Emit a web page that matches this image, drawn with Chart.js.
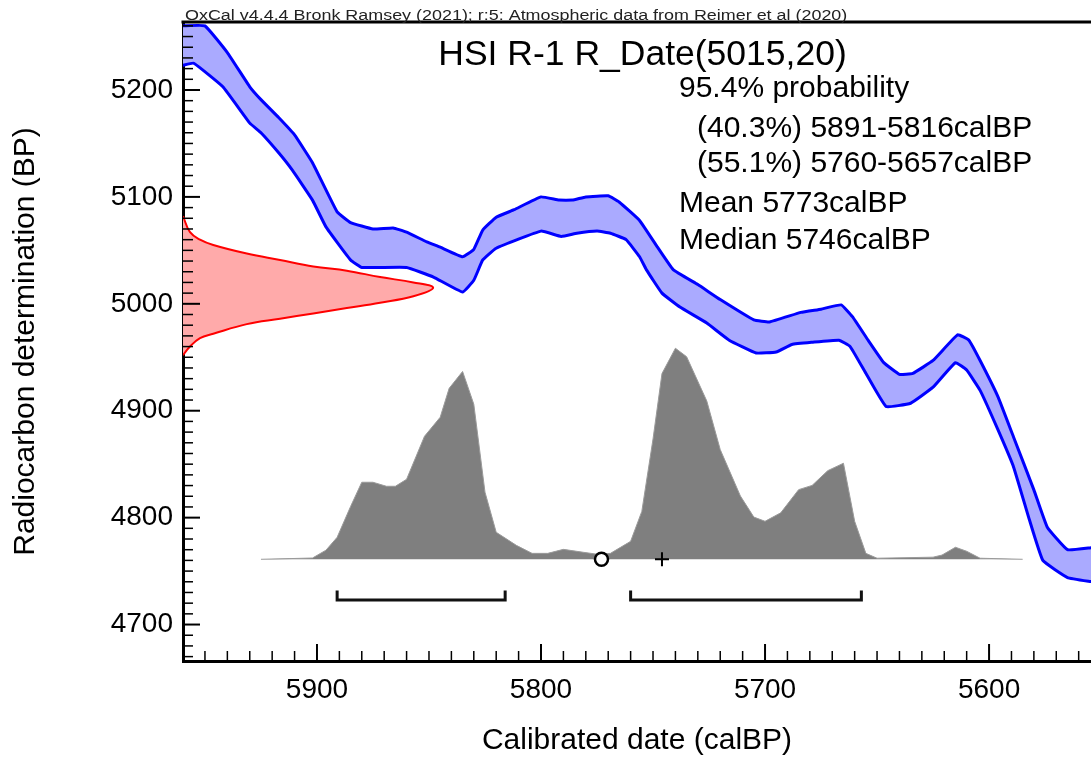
<!DOCTYPE html>
<html>
<head>
<meta charset="utf-8">
<title>HSI R-1 R_Date(5015,20)</title>
<script src="https://cdn.jsdelivr.net/npm/chart.js@4.4.1/dist/chart.umd.min.js"></script>
<style>
  html, body { margin: 0; padding: 0; background: #fff; }
  #wrap { width: 1091px; height: 760px; }
</style>
</head>
<body>
<div id="wrap"><canvas id="chart" width="1091" height="760"></canvas></div>
<script>
// calibration curve band (calBP / BP), upper and lower edge
var curveUpperYears = [5960, 5950, 5940, 5930, 5925, 5917, 5910, 5902, 5891, 5885, 5875, 5866, 5860, 5851, 5845, 5835, 5830, 5826, 5820, 5812, 5800, 5792, 5786, 5780, 5770, 5765, 5756, 5748, 5741, 5730, 5720, 5705, 5698, 5684, 5675, 5666, 5661, 5654, 5647, 5640, 5634, 5625, 5614, 5609, 5604, 5596, 5589, 5580, 5574, 5565, 5554];
var curveUpperBP = [5260, 5260, 5235, 5203, 5191, 5174, 5158, 5132, 5086, 5076, 5070, 5071, 5067, 5058, 5053, 5044, 5051, 5069, 5081, 5088, 5100, 5097, 5097, 5100, 5101, 5095, 5078, 5053, 5032, 5018, 5004, 4985, 4983, 4992, 4995, 4999, 4988, 4966, 4945, 4934, 4935, 4947, 4971, 4966, 4947, 4913, 4875, 4826, 4791, 4770, 4772];
var curveLowerYears = [5960, 5955, 5942, 5930, 5925, 5917, 5911, 5902, 5896, 5885, 5880, 5860, 5848, 5835, 5830, 5826, 5820, 5800, 5791, 5784, 5775, 5769, 5762, 5756, 5753, 5746, 5738, 5726, 5716, 5704, 5695, 5688, 5679, 5667, 5662, 5655, 5646, 5635, 5625, 5615, 5610, 5604, 5596, 5589, 5582, 5576, 5565, 5554];
var curveLowerBP = [5223, 5225, 5203, 5169, 5160, 5141, 5125, 5097, 5072, 5041, 5034, 5034, 5025, 5011, 5022, 5041, 5052, 5068, 5063, 5066, 5068, 5066, 5060, 5044, 5032, 5010, 4997, 4982, 4966, 4954, 4955, 4962, 4964, 4966, 4960, 4935, 4904, 4907, 4922, 4945, 4938, 4919, 4882, 4847, 4798, 4760, 4744, 4740];

// the radiocarbon measurement, drawn sideways on the BP axis (relative prob, peak = 100)
var dateBP = [5082, 5067, 5060, 5055, 5047, 5041, 5035, 5031, 5025, 5020, 5015, 5007, 5001, 4996, 4991, 4986, 4981, 4972, 4968, 4960, 4952];
var dateProb = [0, 2.8, 6.8, 12.1, 25.5, 38.8, 52.1, 65.5, 78.8, 92.1, 100, 92.1, 78.8, 65.5, 52.1, 38.8, 25.5, 12.1, 6.8, 2.8, 0];

// calibrated probability (relative, peak = 100)
var calYears = [5925, 5902, 5896, 5891, 5885, 5880, 5875, 5869, 5865, 5860, 5852, 5845, 5841, 5835, 5830, 5825, 5820, 5811, 5804, 5797, 5790, 5781, 5775, 5769, 5760, 5755, 5750, 5746, 5740, 5735, 5726, 5720, 5711, 5705, 5700, 5693, 5685, 5679, 5672, 5665, 5660, 5655, 5650, 5625, 5621, 5615, 5610, 5604, 5585];
var calProb = [0, 0.6, 4.3, 10.4, 25, 36.5, 36.5, 34.6, 34.6, 37.9, 58.3, 67.3, 81, 89, 73.5, 31.8, 12.8, 6.6, 2.8, 2.8, 4.7, 3.3, 2.4, 2.8, 8.5, 22.7, 57, 88, 100, 96, 75, 52, 30, 20, 18, 22, 33, 35, 42, 45.5, 18, 2.8, 0.5, 1, 2, 5.7, 3.8, 0.5, 0];

// 95.4% ranges
var rangeStarts = [5891, 5760];
var rangeEnds = [5816, 5657];
var meanCal = 5773;
var medianCal = 5746;

var headerText = 'OxCal v4.4.4 Bronk Ramsey (2021); r:5: Atmospheric data from Reimer et al (2020)';
var titleText = 'HSI R-1 R_Date(5015,20)';
var resultLines = ['95.4% probability', '  (40.3%) 5891-5816calBP', '  (55.1%) 5760-5657calBP', 'Mean 5773calBP', 'Median 5746calBP'];

var FONT = '"Liberation Sans", Arial, Helvetica, sans-serif';

function toPoints(xs, ys) {
  return xs.map(function (x, i) { return { x: x, y: ys[i] }; });
}
function swapPoints(ys, xs) {
  return ys.map(function (y, i) { return { x: xs[i], y: y }; });
}
function isMajor(v) {
  return Math.abs(Math.round(v) % 100) === 0 && Math.abs(v - Math.round(v)) < 0.001;
}
function noPadding(s) {
  s.paddingLeft = 0; s.paddingRight = 0; s.paddingTop = 0; s.paddingBottom = 0;
}

// bracket height below the probability baseline (in probability units)
var BR_TOP = -14.8, BR_BOT = -19.3;
var bracketSets = rangeStarts.map(function (a, i) {
  var b = rangeEnds[i];
  return {
    data: [{ x: a, y: BR_TOP }, { x: a, y: BR_BOT }, { x: b, y: BR_BOT }, { x: b, y: BR_TOP }],
    yAxisID: 'y2', showLine: true, pointRadius: 0, borderColor: '#111', borderWidth: 3,
    borderJoinStyle: 'miter', borderCapStyle: 'butt', fill: false, tension: 0
  };
});

// draws the frame top, the inward ticks and the text blocks
var oxcalPlugin = {
  id: 'oxcal',
  afterDraw: function (chart) {
    var ctx = chart.ctx, area = chart.chartArea;
    ctx.save();
    ctx.strokeStyle = '#000';
    ctx.lineWidth = 3;
    ctx.beginPath();
    ctx.moveTo(area.left - 1.5, area.top);
    ctx.lineTo(area.right, area.top);
    ctx.stroke();

    var xs = chart.scales.x, ys = chart.scales.y;
    xs.ticks.forEach(function (t) {
      var px = xs.getPixelForValue(t.value);
      var major = isMajor(t.value);
      ctx.lineWidth = major ? 2 : 1.5;
      ctx.beginPath();
      ctx.moveTo(px, area.bottom);
      ctx.lineTo(px, area.bottom - (major ? 17 : 10));
      ctx.stroke();
    });
    ys.ticks.forEach(function (t) {
      var py = ys.getPixelForValue(t.value);
      var major = isMajor(t.value);
      ctx.lineWidth = major ? 2 : 1.5;
      ctx.beginPath();
      ctx.moveTo(area.left, py);
      ctx.lineTo(area.left + (major ? 17 : 10), py);
      ctx.stroke();
    });

    // header, stretched a bit like the original
    ctx.fillStyle = '#222';
    ctx.font = '14px ' + FONT;
    ctx.textBaseline = 'alphabetic';
    ctx.textAlign = 'left';
    ctx.save();
    ctx.translate(area.left + 2, 19.5);
    ctx.scale(1.28, 1);
    ctx.fillText(headerText, 0, 0);
    ctx.restore();

    ctx.fillStyle = '#000';
    ctx.font = '35.5px ' + FONT;
    ctx.textAlign = 'center';
    ctx.fillText(titleText, 642.5, 65);

    ctx.font = '30px ' + FONT;
    ctx.textAlign = 'left';
    var baselines = [97, 137, 172, 212, 248.5];
    resultLines.forEach(function (s, i) {
      var indent = s.indexOf('  ') === 0;
      ctx.fillText(s.trim(), indent ? 697 : 679, baselines[i]);
    });
    ctx.restore();
  }
};

var X_MIN = 5554.5, X_MAX = 5959.8;
var Y_MIN = 4665.9, Y_MAX = 5263.6;
var Y2_MIN = -48.2, Y2_MAX = 254.6;
var X2_MAX = 363;

new Chart(document.getElementById('chart'), {
  type: 'scatter',
  data: {
    datasets: [
      {
        data: [{ x: meanCal, y: 0 }], yAxisID: 'y2', pointStyle: 'circle', pointRadius: 6.5,
        borderColor: '#000', borderWidth: 2.5, backgroundColor: '#fff', showLine: false
      },
      {
        data: [{ x: medianCal, y: 0 }], yAxisID: 'y2', pointStyle: 'cross', pointRadius: 7,
        borderColor: '#000', borderWidth: 2, showLine: false
      },
      bracketSets[0],
      bracketSets[1],
      {
        data: swapPoints(dateBP, dateProb), xAxisID: 'x2', yAxisID: 'y',
        showLine: true, pointRadius: 0, tension: 0.4,
        borderColor: '#ff0000', borderWidth: 2, backgroundColor: '#ffaaaa', fill: 'shape'
      },
      {
        data: toPoints(curveUpperYears, curveUpperBP), showLine: true, pointRadius: 0, tension: 0.1,
        borderColor: '#0000ff', borderWidth: 3, borderJoinStyle: 'round', backgroundColor: '#aaaaff', fill: '+1'
      },
      {
        data: toPoints(curveLowerYears, curveLowerBP), showLine: true, pointRadius: 0, tension: 0.1,
        borderColor: '#0000ff', borderWidth: 3, borderJoinStyle: 'round', fill: false
      },
      {
        data: toPoints(calYears, calProb), yAxisID: 'y2', showLine: true, pointRadius: 0, tension: 0,
        borderColor: '#9a9a9a', borderWidth: 1, backgroundColor: '#7f7f7f', fill: 'origin'
      }
    ]
  },
  options: {
    responsive: false,
    animation: false,
    events: [],
    layout: { autoPadding: false, padding: { top: 22, right: 0, bottom: 0, left: 0 } },
    plugins: {
      legend: { display: false },
      tooltip: { enabled: false },
      filler: { drawTime: 'beforeDatasetsDraw' }
    },
    scales: {
      x: {
        type: 'linear', position: 'bottom', reverse: true, min: X_MIN, max: X_MAX,
        afterFit: function (s) { s.height = 99; noPadding(s); },
        grid: { display: false, drawTicks: false },
        border: { display: true, color: '#000', width: 3 },
        ticks: {
          stepSize: 10, autoSkip: false, maxRotation: 0, includeBounds: false, padding: 12,
          color: '#000', font: { family: FONT, size: 28 },
          callback: function (v) { return isMajor(v) ? String(Math.round(v)) : ''; }
        },
        title: {
          display: true, text: 'Calibrated date (calBP)', color: '#000',
          font: { family: FONT, size: 30 }, padding: { top: 0, bottom: 1 }
        }
      },
      y: {
        type: 'linear', position: 'left', min: Y_MIN, max: Y_MAX,
        afterFit: function (s) { s.width = 183; noPadding(s); },
        grid: { display: false, drawTicks: false },
        border: { display: true, color: '#000', width: 3 },
        ticks: {
          stepSize: 10, autoSkip: false, includeBounds: false, padding: 10,
          color: '#000', font: { family: FONT, size: 28 },
          callback: function (v) { return isMajor(v) ? String(Math.round(v)) : ''; }
        },
        title: {
          display: true, text: 'Radiocarbon determination (BP)', color: '#000',
          font: { family: FONT, size: 30 }, padding: { top: 8, bottom: 0 }
        }
      },
      x2: { type: 'linear', display: false, min: 0, max: X2_MAX },
      y2: { type: 'linear', display: false, min: Y2_MIN, max: Y2_MAX }
    }
  },
  plugins: [oxcalPlugin]
});
</script>
</body>
</html>
